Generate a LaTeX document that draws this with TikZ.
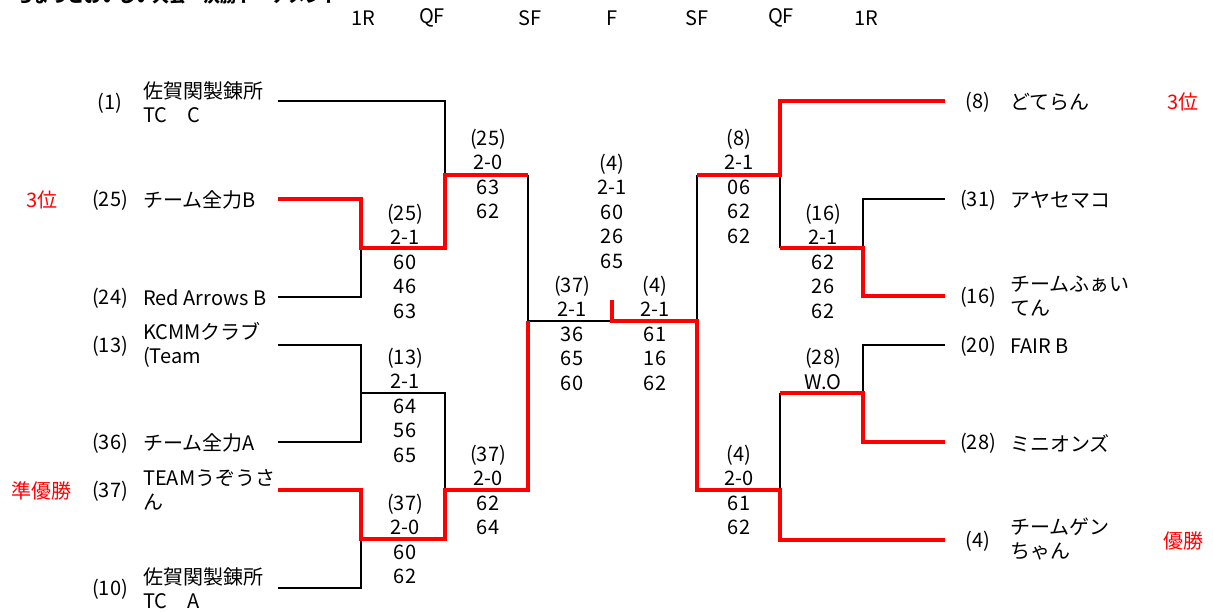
\documentclass[tikz,border=0pt]{standalone}
\usepackage{fontspec}
\setmainfont{Noto Sans CJK JP}
\begin{document}
\begin{tikzpicture}[x=1pt,y=-1pt,
  blk/.style={line width=2pt, black},
  win/.style={line width=3.4pt, red},
  seed/.style={font=\fontsize{20}{24}\selectfont, inner sep=0},
  team/.style={font=\fontsize{20}{24}\selectfont, anchor=west, align=left, inner sep=0},
  score/.style={font=\fontsize{20}{24.5}\selectfont, align=center, inner sep=0},
  rank/.style={font=\fontsize{20}{24}\selectfont, text=red, inner sep=0},
  hdr/.style={font=\fontsize{20}{24}\selectfont, inner sep=0}]
\useasboundingbox (0,0) rectangle (1213,611);
\begin{scope}
\clip (0,0) rectangle (1213,611);
\node[anchor=base west, font=\fontsize{17}{20}\selectfont\bfseries, inner sep=0] (title) at (16,2) {ちょっとおいしい大会　決勝トーナメント};
\end{scope}
% headers
\node[hdr] (h1) at (363,18) {1R};
\node[hdr] (h2) at (432,18) {QF};
\node[hdr] (h3) at (530,18) {SF};
\node[hdr] (h4) at (612,18) {F};
\node[hdr] (h5) at (697,18) {SF};
\node[hdr] (h6) at (781,18) {QF};
\node[hdr] (h7) at (866,18) {1R};
% left teams
\node[seed] (sd1) at (110,103) {(1)};
\node[team] (tm1) at (143,102) {佐賀関製錬所\\TC　C};
\node[seed] (sd25) at (110,200) {(25)};
\node[team] (tm25) at (143,200) {チーム全力B};
\node[seed] (sd24) at (110,298) {(24)};
\node[team] (tm24) at (143,298) {Red Arrows B};
\node[seed] (sd13) at (110,346) {(13)};
\node[team] (tm13) at (143,345) {KCMMクラブ\\(Team};
\node[seed] (sd36) at (110,443) {(36)};
\node[team] (tm36) at (143,443) {チーム全力A};
\node[seed] (sd37) at (110,491) {(37)};
\node[team] (tm37) at (143,490) {TEAMうぞうさ\\ん};
\node[seed] (sd10) at (110,589) {(10)};
\node[team] (tm10) at (143,588) {佐賀関製錬所\\TC　A};
% right teams
\node[seed] (sd8) at (978,102) {(8)};
\node[team] (tm8) at (1010,102) {どてらん};
\node[seed] (sd31) at (978,200) {(31)};
\node[team] (tm31) at (1010,200) {アヤセマコ};
\node[seed] (sd16) at (978,297) {(16)};
\node[team] (tm16) at (1010,296) {チームふぁい\\てん};
\node[seed] (sd20) at (978,346) {(20)};
\node[team] (tm20) at (1010,346) {FAIR B};
\node[seed] (sd28) at (978,443) {(28)};
\node[team] (tm28) at (1010,443) {ミニオンズ};
\node[seed] (sd4) at (978,541) {(4)};
\node[team] (tm4) at (1010,539) {チームゲン\\ちゃん};
% ranks
\node[rank] (rk1) at (42,200) {3位};
\node[rank] (rk2) at (42,491) {準優勝};
\node[rank] (rk3) at (1183,102) {3位};
\node[rank] (rk4) at (1183,541) {優勝};
% scores
\node[score] (scA) at (405,261) {(25)\\2-1\\60\\46\\63};
\node[score] (scB) at (405,405) {(13)\\2-1\\64\\56\\65};
\node[score] (scC) at (405,539) {(37)\\2-0\\60\\62};
\node[score] (scD) at (488,174) {(25)\\2-0\\63\\62};
\node[score] (scE) at (488,490) {(37)\\2-0\\62\\64};
\node[score] (scF) at (572,333) {(37)\\2-1\\36\\65\\60};
\node[score] (scG) at (612,211) {(4)\\2-1\\60\\26\\65};
\node[score] (scH) at (655,333) {(4)\\2-1\\61\\16\\62};
\node[score] (scI) at (739,186) {(8)\\2-1\\06\\62\\62};
\node[score] (scJ) at (739,490) {(4)\\2-0\\61\\62};
\node[score] (scK) at (823,261) {(16)\\2-1\\62\\26\\62};
\node[score] (scL) at (823,369) {(28)\\W.O};
% coordinates left
\coordinate (a1) at (278,101); \coordinate (q1) at (445,101);
\coordinate (a25) at (278,199); \coordinate (r1a) at (361,199);
\coordinate (a24) at (278,297); \coordinate (r1b) at (361,297);
\coordinate (m1) at (361,248); \coordinate (q1m) at (445,248);
\coordinate (qa) at (445,175); \coordinate (s1a) at (528,175);
\coordinate (a13) at (278,345); \coordinate (r2a) at (361,345);
\coordinate (a36) at (278,442); \coordinate (r2b) at (361,442);
\coordinate (m2) at (361,393); \coordinate (q2a) at (445,393);
\coordinate (a37) at (278,490); \coordinate (r3a) at (361,490);
\coordinate (a10) at (278,588); \coordinate (r3b) at (361,588);
\coordinate (m3) at (361,539); \coordinate (q2b) at (445,539);
\coordinate (qb) at (445,490); \coordinate (s1b) at (528,490);
\coordinate (sL) at (528,321); \coordinate (fC) at (612,321); \coordinate (fT) at (612,300);
% coordinates right
\coordinate (sR) at (697,321);
\coordinate (s2a) at (697,175); \coordinate (q3) at (780,175);
\coordinate (b8) at (945,101); \coordinate (q3t) at (780,101);
\coordinate (b31) at (945,199); \coordinate (r4a) at (863,199);
\coordinate (b16) at (945,296); \coordinate (r4b) at (863,296);
\coordinate (m4) at (863,248); \coordinate (q3b) at (780,248);
\coordinate (b20) at (945,345); \coordinate (r5a) at (863,345);
\coordinate (b28) at (945,442); \coordinate (r5b) at (863,442);
\coordinate (m5) at (863,393); \coordinate (q4t) at (780,393);
\coordinate (b4) at (945,540); \coordinate (q4b) at (780,540);
\coordinate (q4) at (780,490); \coordinate (s2b) at (697,490);
% black lines
\draw[blk] (a1) -- (q1) -- (qa);
\draw[blk] (a24) -- (r1b) -- (m1);
\draw[blk] (a13) -- (r2a) -- (r2b) -- (a36);
\draw[blk] (m2) -- (q2a) -- (qb);
\draw[blk] (a10) -- (r3b) -- (m3);
\draw[blk] (s1a) -- (sL) -- (fC);
\draw[blk] (sR) -- (s2a);
\draw[blk] (q3) -- (q3b);
\draw[blk] (b31) -- (r4a) -- (m4);
\draw[blk] (b20) -- (r5a) -- (m5);
\draw[blk] (q4t) -- (q4);
% red lines
\draw[win] (a25) -- (r1a) -- (m1) -- (q1m) -- (qa) -- (s1a);
\draw[win] (a37) -- (r3a) -- (m3) -- (q2b) -- (qb) -- (s1b) -- (sL);
\draw[win] (fT) -- (fC) -- (sR) -- (s2b) -- (q4) -- (q4b) -- (b4);
\draw[win] (s2a) -- (q3) -- (q3t) -- (b8);
\draw[win] (b16) -- (r4b) -- (m4) -- (q3b);
\draw[win] (b28) -- (r5b) -- (m5) -- (q4t);
\end{tikzpicture}
\end{document}
